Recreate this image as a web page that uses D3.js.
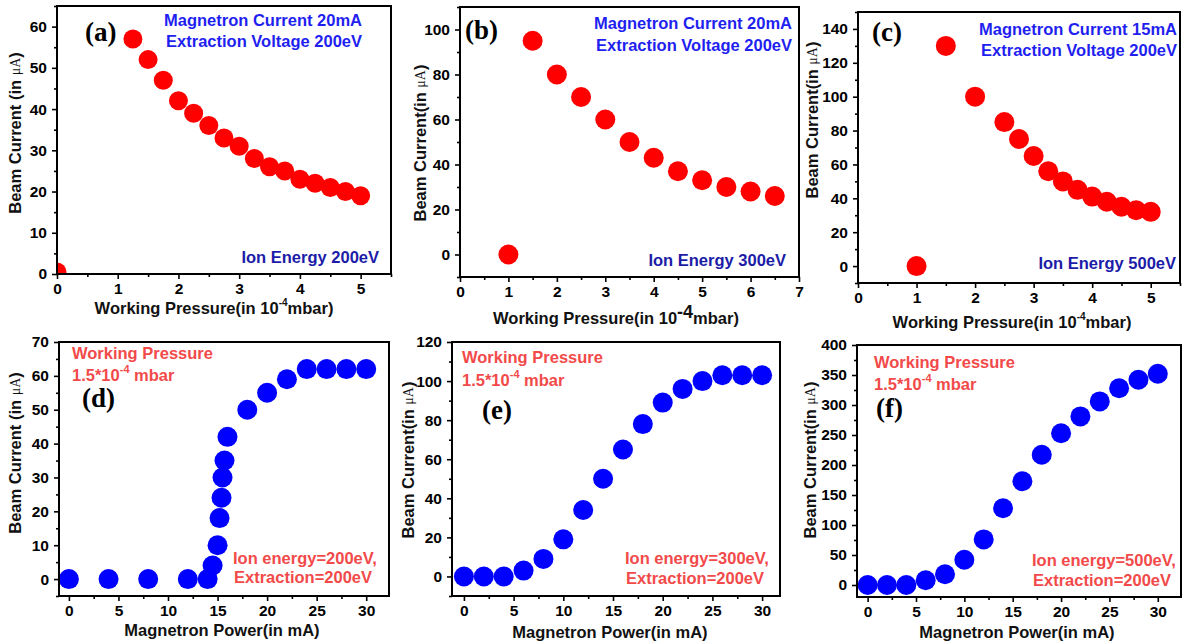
<!DOCTYPE html>
<html>
<head>
<meta charset="utf-8">
<script src="https://cdn.jsdelivr.net/npm/d3@7"></script>
<style>
  body { margin: 0; background: #fff; }
  svg { display: block; }
</style>
</head>
<body>
<div id="chart"></div>
<script>
// ---- data ----
var aPressure = [0, 1.25, 1.5, 1.75, 2, 2.25, 2.5, 2.75, 3, 3.25, 3.5, 3.75, 4, 4.25, 4.5, 4.75, 5];
var aCurrent  = [0.5, 57, 52, 47, 42, 39, 36, 33, 31, 28, 26, 25, 23, 22, 21, 20, 19];

var bPressure = [1, 1.5, 2, 2.5, 3, 3.5, 4, 4.5, 5, 5.5, 6, 6.5];
var bCurrent  = [0, 95, 80, 70, 60, 50, 43, 37, 33, 30, 28, 26];

var cPressure = [1, 1.5, 2, 2.5, 2.75, 3, 3.25, 3.5, 3.75, 4, 4.25, 4.5, 4.75, 5];
var cCurrent  = [0, 130, 100, 85, 75, 65, 56, 50, 45, 41, 38, 35, 33, 32];

var dPower   = [0, 4, 8, 12, 14, 14.5, 15, 15.2, 15.4, 15.5, 15.7, 16, 18, 20, 22, 24, 26, 28, 30];
var dCurrent = [0, 0, 0, 0, 0, 4, 10, 18, 24, 30, 35, 42, 50, 55, 59, 62, 62, 62, 62];

var ePower   = [0, 2, 4, 6, 8, 10, 12, 14, 16, 18, 20, 22, 24, 26, 28, 30];
var eCurrent = [0, 0, 0, 3, 9, 19, 34, 50, 65, 78, 89, 96, 100, 103, 103, 103];

var fPower   = [0, 2, 4, 6, 8, 10, 12, 14, 16, 18, 20, 22, 24, 26, 28, 30];
var fCurrent = [0, 0, 0, 8, 18, 42, 76, 128, 173, 217, 253, 281, 306, 328, 342, 352];

var pressureTicks = [0, 1, 2, 3, 4, 5, 6, 7];
var powerTicks = [0, 5, 10, 15, 20, 25, 30];

// ---- layout ----
var width = 1182, height = 643;
var sans = '"Liberation Sans", Arial, sans-serif';
var serif = '"Liberation Serif", "Times New Roman", serif';
var red = '#ff0000', blue = '#0000ff';
var noteBlue = '#1f1ff0', noteNavy = '#1c1ca8', noteRed = '#f24a4a';

var svg = d3.select('#chart').append('svg')
    .attr('width', width)
    .attr('height', height)
    .style('font-family', sans)
    .style('font-weight', 'bold');

var panels = [
  { id: 'a', x: aPressure, y: aCurrent, color: red, r: 9.5,
    box: [57, 6, 391, 274], xd: [0, 5.5], yd: [0, 65],
    xt: [0, 1, 2, 3, 4, 5], xm: 0.5, yt: [0, 10, 20, 30, 40, 50, 60], ym: 5,
    ylab: 'Beam Current (in ', ylx: 15, yly: 133, xlx: 214, xly: 308, supBig: false,
    xlab: 'Working Pressure(in 10', xlabEnd: 'mbar)', tag: '(a)', tagX: 85, tagY: 32,
    notes: [
      { t: 'Magnetron Current 20mA', x: 362, y: 20, c: noteBlue, a: 'end' },
      { t: 'Extraction Voltage 200eV', x: 362, y: 41, c: noteBlue, a: 'end' },
      { t: 'Ion Energy 200eV', x: 379, y: 257, c: noteNavy, a: 'end' }
    ] },
  { id: 'b', x: bPressure, y: bCurrent, color: red, r: 10,
    box: [460, 7, 799, 277], xd: [0, 7], yd: [-10, 110],
    xt: pressureTicks, xm: 0.5, yt: [0, 20, 40, 60, 80, 100], ym: 10,
    ylab: 'Beam Current(in ', ylx: 420, yly: 143, xlx: 616, xly: 318, supBig: true,
    xlab: 'Working Pressure(in 10', xlabEnd: 'mbar)', tag: '(b)', tagX: 465, tagY: 30,
    notes: [
      { t: 'Magnetron Current 20mA', x: 792, y: 23, c: noteBlue, a: 'end' },
      { t: 'Extraction Voltage 200eV', x: 792, y: 45, c: noteBlue, a: 'end' },
      { t: 'Ion Energy 300eV', x: 786, y: 260, c: noteNavy, a: 'end' }
    ] },
  { id: 'c', x: cPressure, y: cCurrent, color: red, r: 10,
    box: [858, 12, 1180, 283], xd: [0, 5.5], yd: [-10, 150],
    xt: [0, 1, 2, 3, 4, 5], xm: 0.5, yt: [0, 20, 40, 60, 80, 100, 120, 140], ym: 10,
    ylab: 'Beam Current(in ', ylx: 812, yly: 120, xlx: 1012, xly: 322, supBig: false,
    xlab: 'Working Pressure(in 10', xlabEnd: 'mbar)', tag: '(c)', tagX: 872, tagY: 32,
    notes: [
      { t: 'Magnetron Current 15mA', x: 1177, y: 29, c: noteBlue, a: 'end' },
      { t: 'Extraction Voltage 200eV', x: 1177, y: 50, c: noteBlue, a: 'end' },
      { t: 'Ion Energy 500eV', x: 1176, y: 263, c: noteNavy, a: 'end' }
    ] },
  { id: 'd', x: dPower, y: dCurrent, color: blue, r: 10,
    box: [59, 342, 389, 596], xd: [-1, 32.3], yd: [-5, 70],
    xt: powerTicks, xm: 2.5, yt: [0, 10, 20, 30, 40, 50, 60, 70], ym: 5,
    ylab: 'Beam Current (in ', ylx: 15, yly: 453, xlx: 222, xly: 630,
    xlab: 'Magnetron Power(in mA)', tag: '(d)', tagX: 82, tagY: 398,
    notes: [
      { t: 'Working Pressure', x: 72, y: 353, c: noteRed, a: 'start' },
      { t: 'SUP', x: 72, y: 375, c: noteRed, a: 'start' },
      { t: 'Ion energy=200eV,', x: 233, y: 558, c: noteRed, a: 'start' },
      { t: 'Extraction=200eV', x: 234, y: 577, c: noteRed, a: 'start' }
    ] },
  { id: 'e', x: ePower, y: eCurrent, color: blue, r: 10,
    box: [452, 342, 780, 596], xd: [-1.2, 31.8], yd: [-10, 120],
    xt: powerTicks, xm: 2.5, yt: [0, 20, 40, 60, 80, 100, 120], ym: 10,
    ylab: 'Beam Current(in ', ylx: 408, yly: 460, xlx: 610, xly: 632,
    xlab: 'Magnetron Power(in mA)', tag: '(e)', tagX: 482, tagY: 410,
    notes: [
      { t: 'Working Pressure', x: 462, y: 357, c: noteRed, a: 'start' },
      { t: 'SUP', x: 462, y: 380, c: noteRed, a: 'start' },
      { t: 'Ion energy=300eV,', x: 625, y: 558, c: noteRed, a: 'start' },
      { t: 'Extraction=200eV', x: 626, y: 578, c: noteRed, a: 'start' }
    ] },
  { id: 'f', x: fPower, y: fCurrent, color: blue, r: 10,
    box: [857, 345, 1181, 597], xd: [-1.1, 32.4], yd: [-20, 400],
    xt: powerTicks, xm: 2.5, yt: [0, 50, 100, 150, 200, 250, 300, 350, 400], ym: 25,
    ylab: 'Beam Current(in ', ylx: 810, yly: 460, xlx: 1017, xly: 632,
    xlab: 'Magnetron Power(in mA)', tag: '(f)', tagX: 876, tagY: 408,
    notes: [
      { t: 'Working Pressure', x: 874, y: 362, c: noteRed, a: 'start' },
      { t: 'SUP', x: 874, y: 384, c: noteRed, a: 'start' },
      { t: 'Ion energy=500eV,', x: 1032, y: 560, c: noteRed, a: 'start' },
      { t: 'Extraction=200eV', x: 1033, y: 580, c: noteRed, a: 'start' }
    ] }
];

function minorTicks(domain, step, major) {
    var out = [];
    var start = Math.ceil(domain[0] / step) * step;
    for (var v = start; v <= domain[1] + 1e-9; v += step) {
        if (major.indexOf(+v.toFixed(4)) < 0) out.push(+v.toFixed(4));
    }
    return out;
}

panels.forEach(function(p) {
    var x0 = p.box[0], y0 = p.box[1], x1 = p.box[2], y1 = p.box[3];
    var xScale = d3.scaleLinear().domain(p.xd).range([x0, x1]);
    var yScale = d3.scaleLinear().domain(p.yd).range([y1, y0]);

    var g = svg.append('g').attr('class', 'panel-' + p.id);

    // minor ticks
    g.append('g')
        .attr('transform', `translate(0, ${y1})`)
        .call(d3.axisBottom(xScale).tickValues(minorTicks(p.xd, p.xm, p.xt)).tickSize(3).tickFormat(''));
    g.append('g')
        .attr('transform', `translate(${x0}, 0)`)
        .call(d3.axisLeft(yScale).tickValues(minorTicks(p.yd, p.ym, p.yt)).tickSize(3).tickFormat(''));

    // major ticks
    g.append('g')
        .attr('transform', `translate(0, ${y1})`)
        .call(d3.axisBottom(xScale).tickValues(p.xt.filter(v => v >= p.xd[0] && v <= p.xd[1]))
            .tickSize(5).tickPadding(4).tickFormat(d3.format('d')));
    g.append('g')
        .attr('transform', `translate(${x0}, 0)`)
        .call(d3.axisLeft(yScale).tickValues(p.yt).tickSize(5).tickPadding(5).tickFormat(d3.format('d')));

    g.selectAll('.domain').remove();
    g.selectAll('.tick line').attr('stroke', '#000').attr('stroke-width', 1.6);
    g.selectAll('.tick text')
        .attr('font-size', 15.5)
        .attr('font-family', null)
        .style('font-family', sans)
        .style('font-weight', 'bold')
        .attr('fill', '#000');

    // points, clipped to the frame
    svg.append('clipPath').attr('id', 'clip-' + p.id)
        .append('rect')
        .attr('x', x0).attr('y', y0)
        .attr('width', x1 - x0).attr('height', y1 - y0);

    g.append('g')
        .attr('clip-path', `url(#clip-${p.id})`)
        .selectAll('circle')
        .data(p.x.map((v, i) => [v, p.y[i]]))
        .enter()
        .append('circle')
        .attr('cx', d => xScale(d[0]))
        .attr('cy', d => yScale(d[1]))
        .attr('r', p.r)
        .attr('fill', p.color);

    // frame
    g.append('rect')
        .attr('x', x0).attr('y', y0)
        .attr('width', x1 - x0).attr('height', y1 - y0)
        .attr('fill', 'none')
        .attr('stroke', '#000')
        .attr('stroke-width', 2);

    // y title
    var yt = g.append('text')
        .attr('transform', `translate(${p.ylx}, ${p.yly}) rotate(-90)`)
        .attr('text-anchor', 'middle')
        .attr('dominant-baseline', 'central')
        .attr('font-size', 16.5)
        .attr('fill', '#111');
    yt.append('tspan').text(p.ylab);
    yt.append('tspan')
        .style('font-family', serif)
        .style('font-weight', 'normal')
        .attr('font-size', 14)
        .text('\u03bcA');
    yt.append('tspan').text(')');

    // x title
    var xt = g.append('text')
        .attr('x', p.xlx)
        .attr('y', p.xly)
        .attr('text-anchor', 'middle')
        .attr('dominant-baseline', 'central')
        .attr('font-size', 16.5)
        .attr('fill', '#111');
    xt.append('tspan').text(p.xlab);
    if (p.xlabEnd) {
        xt.append('tspan')
            .attr('dy', -6)
            .attr('font-size', p.supBig ? 18 : 10)
            .text('-4');
        xt.append('tspan')
            .attr('dy', 6)
            .text(p.xlabEnd);
    }

    // panel tag
    g.append('text')
        .attr('x', p.tagX)
        .attr('y', p.tagY)
        .attr('dominant-baseline', 'central')
        .style('font-family', serif)
        .attr('font-size', 27)
        .attr('fill', '#000')
        .text(p.tag);

    // notes
    p.notes.forEach(function(n) {
        var t = g.append('text')
            .attr('x', n.x)
            .attr('y', n.y)
            .attr('text-anchor', n.a)
            .attr('dominant-baseline', 'central')
            .attr('font-size', 16.5)
            .attr('fill', n.c);
        if (n.t === 'SUP') {
            t.append('tspan').text('1.5*10');
            t.append('tspan').attr('dy', -6).attr('font-size', 11).text('-4');
            t.append('tspan').attr('dy', 6).text(' mbar');
        } else {
            t.text(n.t);
        }
    });
});
</script>
</body>
</html>
